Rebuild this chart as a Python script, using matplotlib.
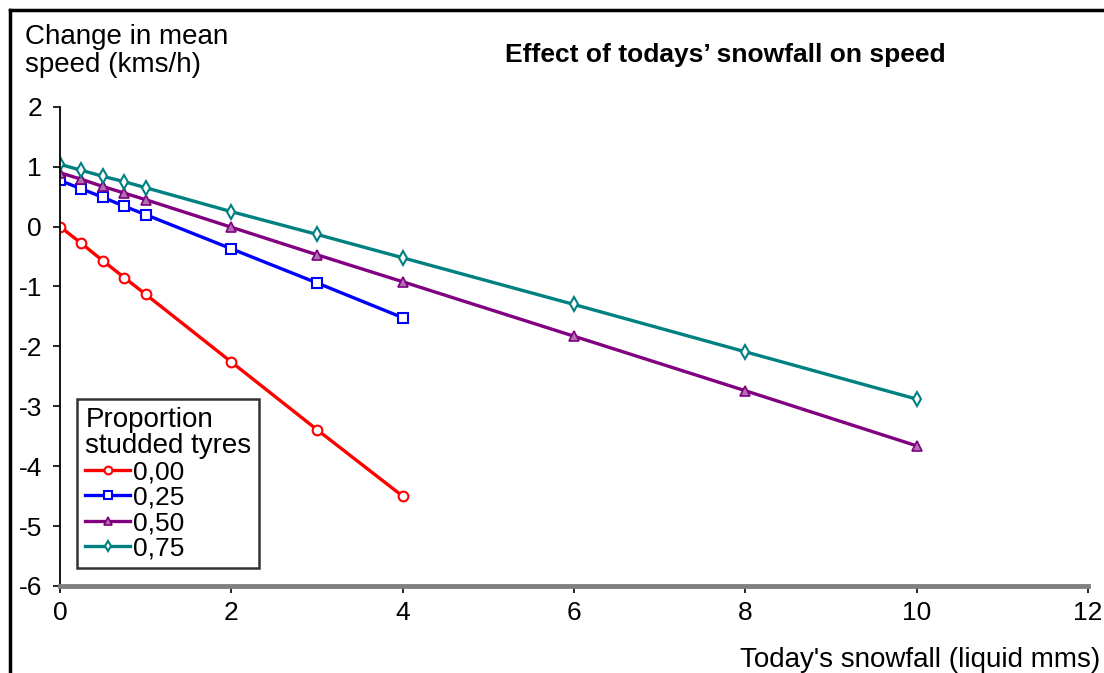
import matplotlib.pyplot as plt
from matplotlib.lines import Line2D

plt.rcParams['font.family'] = ['Liberation Sans', 'DejaVu Sans']
plt.rcParams['axes.unicode_minus'] = False

# Snowfall (liquid mm)
x_short = [0, 0.25, 0.5, 0.75, 1, 2, 3, 4]
x_long = [0, 0.25, 0.5, 0.75, 1, 2, 3, 4, 6, 8, 10]

# Change in mean speed per share of studded tyres
v_000 = [0, -0.28, -0.57, -0.85, -1.13, -2.26, -3.39, -4.5]
v_025 = [0.77, 0.63, 0.49, 0.34, 0.2, -0.37, -0.94, -1.52]
v_050 = [0.9, 0.79, 0.67, 0.56, 0.45, -0.01, -0.47, -0.92, -1.83, -2.74, -3.66]
v_075 = [1.04, 0.94, 0.84, 0.75, 0.65, 0.25, -0.13, -0.52, -1.3, -2.09, -2.88]

labels = ['0,00', '0,25', '0,50', '0,75']

fig = plt.figure(figsize=(11.04, 6.73), dpi=100)
ax = fig.add_axes([0.0543, 0.1293, 0.9312, 0.712])

ax.plot(x_short, v_000, color='#ff0000', lw=2.4, marker='o', ms=7,
        mfc='white', mec='#ff0000', mew=1.5, label=labels[0])
ax.plot(x_short, v_025, color='#0000ff', lw=2.4, marker='s', ms=7,
        mfc='white', mec='#0000ff', mew=1.5, label=labels[1])
ax.plot(x_long, v_050, color='#800080', lw=2.4, marker='^', ms=7,
        mfc='#b070b0', mec='#800080', mew=1.2, label=labels[2])
ax.plot(x_long, v_075, color='#008080', lw=2.4, marker='d', ms=7,
        mfc='white', mec='#008080', mew=1.5, label=labels[3])

ax.set_xlim(0, 12)
ax.set_ylim(-6, 2)
ax.set_xticks(range(0, 13, 2))
ax.set_yticks(range(-6, 3))
ax.tick_params(axis='both', labelsize=19, direction='out', length=5, width=1.2)
ax.tick_params(axis='y', pad=8)
ax.tick_params(axis='x', pad=6)

for s in ['top', 'right']:
    ax.spines[s].set_visible(False)
ax.spines['left'].set_linewidth(1.3)
ax.spines['bottom'].set_linewidth(3.5)
ax.spines['bottom'].set_color('#808080')

leg = ax.legend(title='Proportion\nstudded tyres', loc='lower left',
                bbox_to_anchor=(0.017, 0.037), fontsize=19, title_fontsize=20,
                frameon=True, fancybox=False, edgecolor='black',
                handlelength=1.7, handletextpad=0.1, labelspacing=0.05,
                borderpad=0.3, markerscale=0.8, borderaxespad=0)
leg._legend_box.align = 'left'
leg.get_title().set_linespacing(1.0)
leg.get_frame().set_linewidth(1.8)

fig.text(0.0226, 0.965, 'Change in mean\nspeed (kms/h)', fontsize=20,
         ha='left', va='top', linespacing=1.1)
fig.text(0.657, 0.918, 'Effect of todays\u2019 snowfall on speed', fontsize=19,
         fontweight='bold', ha='center', va='center')
fig.text(0.997, 0.0, "Today's snowfall (liquid mms)", fontsize=20,
         ha='right', va='bottom')

# outer frame (left and top edges)
fig.add_artist(Line2D([0.0095, 0.0095], [0, 0.985], transform=fig.transFigure,
                      color='black', lw=2.5))
fig.add_artist(Line2D([0.0095, 1.0], [0.985, 0.985], transform=fig.transFigure,
                      color='black', lw=2.5))

fig.savefig('out.png', dpi=100)
